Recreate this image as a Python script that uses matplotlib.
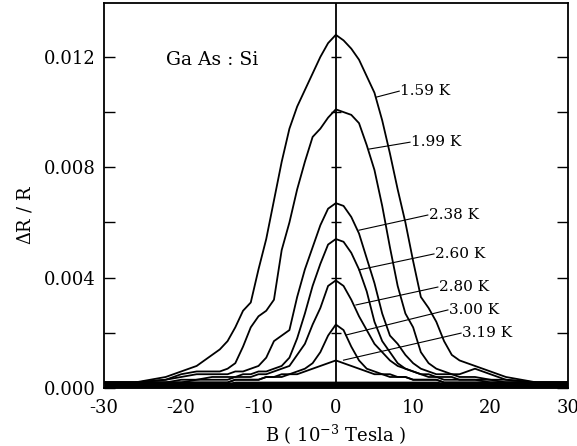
import matplotlib.pyplot as plt
from matplotlib.ticker import MultipleLocator

plt.rcParams['font.family'] = ['DejaVu Serif']
plt.rcParams['mathtext.fontset'] = 'dejavuserif'

# magnetic field grid (10^-3 Tesla)
b = [-30, -26, -22, -20, -18, -16, -15, -14, -13, -12, -11, -10, -9, -8, -7, -6, -5, -4, -3, -2, -1,
     0, 1, 2, 3, 4, 5, 6, 7, 8, 9, 10, 11, 12, 13, 14, 15, 16, 18, 20, 22, 26, 30]

# delta R / R for each temperature
r_159 = [0.0002, 0.0002, 0.0004, 0.0006, 0.0008, 0.0012, 0.0014, 0.0017, 0.0022, 0.0028, 0.0031,
         0.0043, 0.0054, 0.0068, 0.0082, 0.0094, 0.0102, 0.0108, 0.0114, 0.0120, 0.0125,
         0.0128, 0.0126, 0.0123, 0.0119, 0.0113, 0.0107, 0.0097, 0.0085, 0.0072, 0.0060, 0.0046,
         0.0033, 0.0029, 0.0024, 0.0017, 0.0012, 0.0010, 0.0008, 0.0006, 0.0004, 0.0002, 0.0002]
r_199 = [0.0002, 0.0002, 0.0003, 0.0005, 0.0006, 0.0006, 0.0006, 0.0007, 0.0009, 0.0015, 0.0022,
         0.0026, 0.0028, 0.0032, 0.0050, 0.0060, 0.0072, 0.0082, 0.0091, 0.0094, 0.0098,
         0.0101, 0.0100, 0.0099, 0.0096, 0.0088, 0.0079, 0.0066, 0.0051, 0.0037, 0.0027, 0.0022,
         0.0013, 0.0009, 0.0007, 0.0006, 0.0005, 0.0005, 0.0007, 0.0005, 0.0003, 0.0002, 0.0002]
r_238 = [0.0002, 0.0002, 0.0003, 0.0004, 0.0005, 0.0005, 0.0005, 0.0005, 0.0006, 0.0006, 0.0007,
         0.0008, 0.0011, 0.0017, 0.0019, 0.0021, 0.0033, 0.0043, 0.0051, 0.0059, 0.0065,
         0.0067, 0.0066, 0.0062, 0.0056, 0.0047, 0.0038, 0.0027, 0.0019, 0.0016, 0.0012, 0.0009,
         0.0007, 0.0006, 0.0005, 0.0005, 0.0005, 0.0004, 0.0004, 0.0003, 0.0003, 0.0002, 0.0002]
r_260 = [0.0002, 0.0002, 0.0002, 0.0003, 0.0003, 0.0004, 0.0004, 0.0004, 0.0004, 0.0005, 0.0005,
         0.0006, 0.0006, 0.0007, 0.0008, 0.0011, 0.0018, 0.0027, 0.0037, 0.0045, 0.0052,
         0.0054, 0.0053, 0.0049, 0.0043, 0.0035, 0.0024, 0.0017, 0.0013, 0.0009, 0.0007, 0.0006,
         0.0005, 0.0005, 0.0004, 0.0004, 0.0004, 0.0003, 0.0003, 0.0003, 0.0002, 0.0002, 0.0002]
r_280 = [0.0002, 0.0002, 0.0002, 0.0002, 0.0003, 0.0003, 0.0003, 0.0003, 0.0004, 0.0004, 0.0004,
         0.0005, 0.0005, 0.0006, 0.0007, 0.0008, 0.0012, 0.0016, 0.0023, 0.0029, 0.0037,
         0.0039, 0.0037, 0.0032, 0.0026, 0.0021, 0.0016, 0.0013, 0.0010, 0.0008, 0.0007, 0.0006,
         0.0005, 0.0004, 0.0004, 0.0003, 0.0003, 0.0003, 0.0003, 0.0002, 0.0002, 0.0002, 0.0002]
r_300 = [0.0002, 0.0002, 0.0002, 0.0002, 0.0002, 0.0002, 0.0002, 0.0002, 0.0003, 0.0003, 0.0003,
         0.0003, 0.0004, 0.0004, 0.0005, 0.0005, 0.0006, 0.0007, 0.0009, 0.0013, 0.0019,
         0.0023, 0.0021, 0.0015, 0.0010, 0.0007, 0.0006, 0.0005, 0.0005, 0.0004, 0.0004, 0.0003,
         0.0003, 0.0003, 0.0003, 0.0002, 0.0002, 0.0002, 0.0002, 0.0002, 0.0002, 0.0002, 0.0002]
r_319 = [0.0002, 0.0002, 0.0002, 0.0002, 0.0002, 0.0002, 0.0002, 0.0002, 0.0003, 0.0003, 0.0003,
         0.0003, 0.0004, 0.0004, 0.0004, 0.0005, 0.0005, 0.0006, 0.0007, 0.0008, 0.0009,
         0.0010, 0.0009, 0.0008, 0.0007, 0.0006, 0.0005, 0.0005, 0.0004, 0.0004, 0.0004, 0.0003,
         0.0003, 0.0003, 0.0003, 0.0002, 0.0002, 0.0002, 0.0002, 0.0002, 0.0002, 0.0002, 0.0002]

curves = [r_159, r_199, r_238, r_260, r_280, r_300, r_319]
labels = ["1.59 K", "1.99 K", "2.38 K", "2.60 K", "2.80 K", "3.00 K", "3.19 K"]
# label text anchor (B, dR/R) and the point on the curve the leader line goes to
label_pos = [(8.2, 0.01076), (9.6, 0.00891), (11.9, 0.00627), (12.7, 0.00486),
             (13.2, 0.00366), (14.5, 0.00283), (16.2, 0.00199)]
label_tip = [(5.2, 0.01054), (4.3, 0.00866), (3.0, 0.00572), (3.0, 0.00428),
             (2.6, 0.00301), (1.3, 0.00192), (1.0, 0.00101)]

fig = plt.figure(figsize=(5.77, 4.46), dpi=100)
ax = fig.add_axes([0.180, 0.130, 0.804, 0.863])

# dense noise band along the baseline
floor = [min(min(r[i] for r in curves), 0.00025) for i in range(len(b))]
ax.fill_between(b, 0, floor, color="black", lw=0)

for r in curves:
    ax.plot(b, r, color="black", lw=1.3)

ax.axvline(0, color="black", lw=1.3)
# small crosses on the zero line
ax.plot([0] * 6, [0.002, 0.004, 0.006, 0.008, 0.010, 0.012], ls="none",
        marker="_", ms=7, mew=1.0, color="black")

for lab, (tx, ty), (px, py) in zip(labels, label_pos, label_tip):
    ax.plot([px, tx], [py, ty], color="black", lw=0.8)
    ax.text(tx + 0.1, ty, lab, fontsize=11, va="center", ha="left")

ax.text(-22, 0.0119, "Ga As : Si", fontsize=13.5, va="center", ha="left")

ax.set_xlim(-30, 30)
ax.set_ylim(0, 0.01395)
ax.set_xticks([-30, -20, -10, 0, 10, 20, 30])
ax.set_xticklabels(["-30", "-20", "-10", "0", "10", "20", "30"])
ax.set_yticks([0.000, 0.004, 0.008, 0.012])
ax.set_yticklabels(["0.000", "0.004", "0.008", "0.012"])
ax.yaxis.set_minor_locator(MultipleLocator(0.002))
ax.tick_params(axis="y", which="both", direction="in", length=8, width=1,
               right=True, labelsize=13, pad=6)
ax.tick_params(axis="x", which="both", length=0, labelsize=13, pad=8)
for s in ax.spines.values():
    s.set_linewidth(1.3)

ax.set_ylabel(r"$\Delta$R / R", fontsize=13)
ax.yaxis.set_label_coords(-0.15, 0.45)
ax.set_xlabel(r"B ( 10$^{-3}$ Tesla )", fontsize=13, labelpad=4)

fig.savefig("out.png", dpi=100)
